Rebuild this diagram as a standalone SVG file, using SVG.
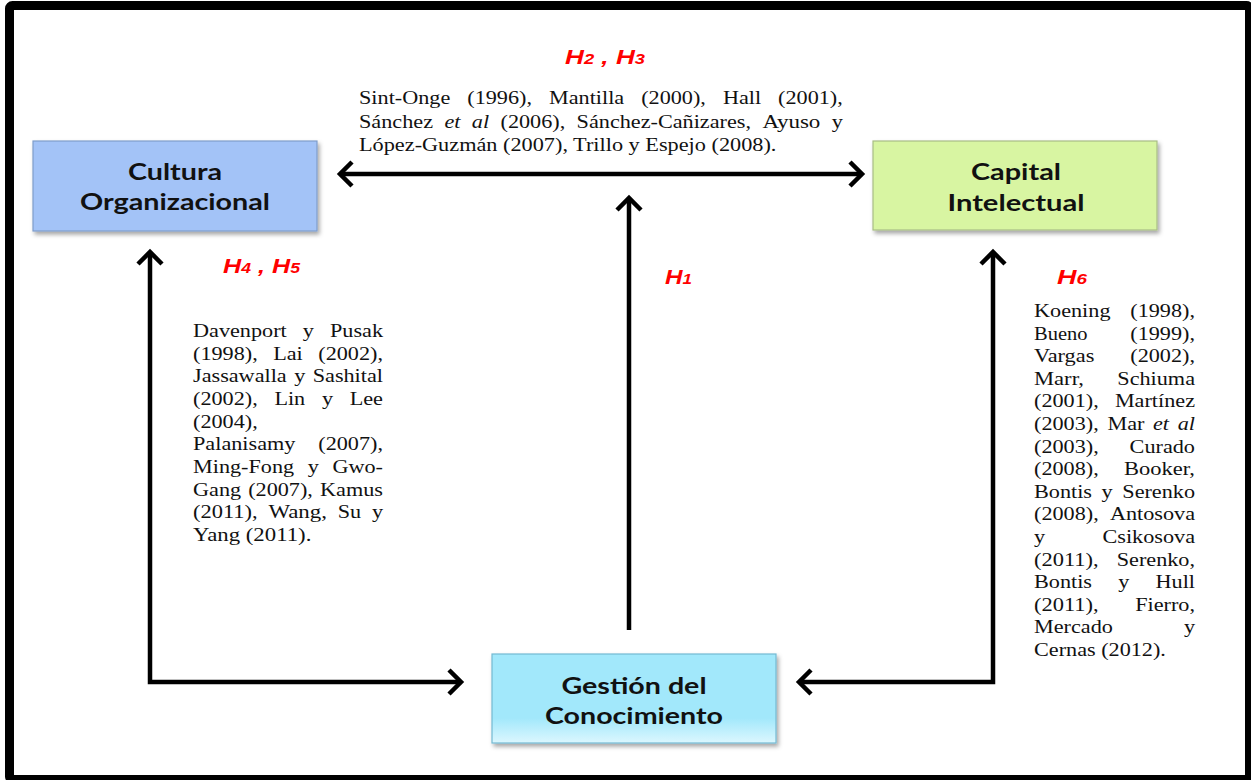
<svg xmlns="http://www.w3.org/2000/svg" width="1251" height="780" viewBox="0 0 1251 780">
  <defs>
    <style>
      .frame { fill: none; stroke: #000; stroke-width: 9; }
      .box-label { font-family: Lato, "Open Sans", "Liberation Sans", sans-serif; font-weight: 700; font-size: 23px; fill: #111; text-anchor: middle; }
      .hyp { font-family: "Liberation Sans", Arial, sans-serif; font-weight: 700; font-style: italic; font-size: 20px; fill: #ff0000; }
      .hyp .sub { font-size: 14px; }
      .ref { font-family: "Liberation Serif", "Times New Roman", serif; font-size: 18px; fill: #111; }
      .ref .it { font-style: italic; }
      .conn { fill: none; stroke: #000; stroke-width: 4.5; stroke-linejoin: miter; }
    </style>
    <marker id="chev" viewBox="-16 -16 20 32" markerWidth="20" markerHeight="32" refX="0" refY="0" markerUnits="userSpaceOnUse" orient="auto-start-reverse" overflow="visible">
      <path d="M -12 -12 L 0 0 L -12 12" fill="none" stroke="#000" stroke-width="4.5" stroke-linecap="butt" stroke-linejoin="miter"/>
    </marker>
    <filter id="shadow" x="-10%" y="-10%" width="125%" height="135%">
      <feDropShadow dx="2" dy="3" stdDeviation="2" flood-color="#000" flood-opacity="0.35"/>
    </filter>
    <linearGradient id="gcFill" x1="0" y1="0" x2="0" y2="1">
      <stop offset="0" stop-color="#a2e8fb"/>
      <stop offset="0.72" stop-color="#a2e8fb"/>
      <stop offset="1" stop-color="#dcf7fe"/>
    </linearGradient>
  </defs>

  <rect width="1251" height="780" fill="#fff"/>
  <rect class="frame" x="9.5" y="5.5" width="1240" height="774" rx="3"/>

  <!-- connectors -->
  <g id="connectors">
    <path class="conn" d="M 340 174 L 862 174" marker-start="url(#chev)" marker-end="url(#chev)"/>
    <path class="conn" d="M 629 630 L 629 198" marker-end="url(#chev)"/>
    <path class="conn" d="M 461 682 L 150 682 L 150 252" marker-start="url(#chev)" marker-end="url(#chev)"/>
    <path class="conn" d="M 799 682 L 993 682 L 993 252" marker-start="url(#chev)" marker-end="url(#chev)"/>
  </g>

  <!-- nodes -->
  <g id="node-cultura">
    <rect x="33" y="141" width="284" height="90" fill="#a3c3f7" stroke="#7f9dca" stroke-width="1.2" filter="url(#shadow)"/>
    <text class="box-label" x="175" y="180" textLength="94" lengthAdjust="spacingAndGlyphs">Cultura</text>
    <text class="box-label" x="175" y="210" textLength="190" lengthAdjust="spacingAndGlyphs">Organizacional</text>
  </g>

  <g id="node-capital">
    <rect x="873" y="141" width="284" height="89" fill="#d8f5a2" stroke="#a9bd85" stroke-width="1.2" filter="url(#shadow)"/>
    <text class="box-label" x="1016" y="180" textLength="90" lengthAdjust="spacingAndGlyphs">Capital</text>
    <text class="box-label" x="1016" y="211" textLength="137" lengthAdjust="spacingAndGlyphs">Intelectual</text>
  </g>

  <g id="node-gestion">
    <rect x="492" y="654" width="284" height="89" fill="url(#gcFill)" stroke="#73b9d2" stroke-width="1.2" filter="url(#shadow)"/>
    <text class="box-label" x="634" y="694" textLength="145" lengthAdjust="spacingAndGlyphs">Gestión del</text>
    <text class="box-label" x="634" y="724" textLength="178" lengthAdjust="spacingAndGlyphs">Conocimiento</text>
  </g>

  <!-- hypothesis labels -->
  <g id="hyp-labels">
    <text class="hyp" x="565" y="64" textLength="80" lengthAdjust="spacingAndGlyphs">H<tspan class="sub">2</tspan> , H<tspan class="sub">3</tspan></text>
    <text class="hyp" x="223" y="273" textLength="77" lengthAdjust="spacingAndGlyphs">H<tspan class="sub">4</tspan> , H<tspan class="sub">5</tspan></text>
    <text class="hyp" x="665" y="284" textLength="27" lengthAdjust="spacingAndGlyphs">H<tspan class="sub">1</tspan></text>
    <text class="hyp" x="1057" y="284" textLength="30" lengthAdjust="spacingAndGlyphs">H<tspan class="sub">6</tspan></text>
  </g>

  <!-- references: culture <-> intellectual capital -->
  <g id="refs-top" class="ref">
    <text x="359" y="104" textLength="91.3" lengthAdjust="spacingAndGlyphs">Sint-Onge</text>
    <text x="467.3" y="104" textLength="64.7" lengthAdjust="spacingAndGlyphs">(1996),</text>
    <text x="549" y="104" textLength="75.2" lengthAdjust="spacingAndGlyphs">Mantilla</text>
    <text x="641.2" y="104" textLength="64.7" lengthAdjust="spacingAndGlyphs">(2000),</text>
    <text x="722.9" y="104" textLength="38.2" lengthAdjust="spacingAndGlyphs">Hall</text>
    <text x="778.1" y="104" textLength="64.7" lengthAdjust="spacingAndGlyphs">(2001),</text>

    <text x="359" y="128" textLength="74" lengthAdjust="spacingAndGlyphs">Sánchez</text>
    <text class="it" x="444.4" y="128" textLength="16" lengthAdjust="spacingAndGlyphs">et</text>
    <text class="it" x="471.8" y="128" textLength="17.3" lengthAdjust="spacingAndGlyphs">al</text>
    <text x="500.5" y="128" textLength="64.7" lengthAdjust="spacingAndGlyphs">(2006),</text>
    <text x="576.6" y="128" textLength="174.4" lengthAdjust="spacingAndGlyphs">Sánchez-Cañizares,</text>
    <text x="762.4" y="128" textLength="58" lengthAdjust="spacingAndGlyphs">Ayuso</text>
    <text x="831.8" y="128" textLength="11.1" lengthAdjust="spacingAndGlyphs">y</text>

    <text x="359" y="151" textLength="417.4" lengthAdjust="spacingAndGlyphs">López-Guzmán (2007), Trillo y Espejo (2008).</text>
  </g>

  <!-- references: knowledge management <-> culture -->
  <g id="refs-left" class="ref">
    <text x="193" y="337" textLength="93.7" lengthAdjust="spacingAndGlyphs">Davenport</text>
    <text x="302.8" y="337" textLength="11.1" lengthAdjust="spacingAndGlyphs">y</text>
    <text x="330" y="337" textLength="53" lengthAdjust="spacingAndGlyphs">Pusak</text>

    <text x="193" y="359.7" textLength="64.7" lengthAdjust="spacingAndGlyphs">(1998),</text>
    <text x="273.2" y="359.7" textLength="29.6" lengthAdjust="spacingAndGlyphs">Lai</text>
    <text x="318.3" y="359.7" textLength="64.7" lengthAdjust="spacingAndGlyphs">(2002),</text>

    <text x="193" y="382.3" textLength="93.7" lengthAdjust="spacingAndGlyphs">Jassawalla</text>
    <text x="294.2" y="382.3" textLength="11.1" lengthAdjust="spacingAndGlyphs">y</text>
    <text x="312.7" y="382.3" textLength="70.3" lengthAdjust="spacingAndGlyphs">Sashital</text>

    <text x="193" y="405" textLength="64.7" lengthAdjust="spacingAndGlyphs">(2002),</text>
    <text x="274.4" y="405" textLength="30.8" lengthAdjust="spacingAndGlyphs">Lin</text>
    <text x="321.9" y="405" textLength="11.1" lengthAdjust="spacingAndGlyphs">y</text>
    <text x="349.7" y="405" textLength="33.3" lengthAdjust="spacingAndGlyphs">Lee</text>

    <text x="193" y="427.7" textLength="64.7" lengthAdjust="spacingAndGlyphs">(2004),</text>

    <text x="193" y="450.3" textLength="102.4" lengthAdjust="spacingAndGlyphs">Palanisamy</text>
    <text x="318.3" y="450.3" textLength="64.7" lengthAdjust="spacingAndGlyphs">(2007),</text>

    <text x="193" y="473" textLength="101.1" lengthAdjust="spacingAndGlyphs">Ming-Fong</text>
    <text x="307.7" y="473" textLength="11.1" lengthAdjust="spacingAndGlyphs">y</text>
    <text x="332.5" y="473" textLength="50.5" lengthAdjust="spacingAndGlyphs">Gwo-</text>

    <text x="193" y="495.7" textLength="48.1" lengthAdjust="spacingAndGlyphs">Gang</text>
    <text x="248.2" y="495.7" textLength="64.7" lengthAdjust="spacingAndGlyphs">(2007),</text>
    <text x="320.1" y="495.7" textLength="62.9" lengthAdjust="spacingAndGlyphs">Kamus</text>

    <text x="193" y="518.3" textLength="64.7" lengthAdjust="spacingAndGlyphs">(2011),</text>
    <text x="268.4" y="518.3" textLength="58.6" lengthAdjust="spacingAndGlyphs">Wang,</text>
    <text x="337.7" y="518.3" textLength="23.4" lengthAdjust="spacingAndGlyphs">Su</text>
    <text x="371.9" y="518.3" textLength="11.1" lengthAdjust="spacingAndGlyphs">y</text>

    <text x="193" y="541" textLength="118.4" lengthAdjust="spacingAndGlyphs">Yang (2011).</text>
  </g>

  <!-- references: knowledge management <-> intellectual capital -->
  <g id="refs-right" class="ref">
    <text x="1034" y="317" textLength="76.5" lengthAdjust="spacingAndGlyphs">Koening</text>
    <text x="1130.3" y="317" textLength="64.7" lengthAdjust="spacingAndGlyphs">(1998),</text>

    <text x="1034" y="339.6" textLength="53.5" lengthAdjust="spacingAndGlyphs">Bueno</text>
    <text x="1130.3" y="339.6" textLength="64.7" lengthAdjust="spacingAndGlyphs">(1999),</text>

    <text x="1034" y="362.2" textLength="60.4" lengthAdjust="spacingAndGlyphs">Vargas</text>
    <text x="1130.3" y="362.2" textLength="64.7" lengthAdjust="spacingAndGlyphs">(2002),</text>

    <text x="1034" y="384.8" textLength="49.9" lengthAdjust="spacingAndGlyphs">Marr,</text>
    <text x="1117.3" y="384.8" textLength="77.7" lengthAdjust="spacingAndGlyphs">Schiuma</text>

    <text x="1034" y="407.4" textLength="64.7" lengthAdjust="spacingAndGlyphs">(2001),</text>
    <text x="1114.9" y="407.4" textLength="80.1" lengthAdjust="spacingAndGlyphs">Martínez</text>

    <text x="1034" y="430" textLength="64.7" lengthAdjust="spacingAndGlyphs">(2003),</text>
    <text x="1107.4" y="430" textLength="37" lengthAdjust="spacingAndGlyphs">Mar</text>
    <text class="it" x="1153" y="430" textLength="16" lengthAdjust="spacingAndGlyphs">et</text>
    <text class="it" x="1177.7" y="430" textLength="17.3" lengthAdjust="spacingAndGlyphs">al</text>

    <text x="1034" y="452.6" textLength="64.7" lengthAdjust="spacingAndGlyphs">(2003),</text>
    <text x="1129.6" y="452.6" textLength="65.4" lengthAdjust="spacingAndGlyphs">Curado</text>

    <text x="1034" y="475.2" textLength="64.7" lengthAdjust="spacingAndGlyphs">(2008),</text>
    <text x="1124.1" y="475.2" textLength="70.9" lengthAdjust="spacingAndGlyphs">Booker,</text>

    <text x="1034" y="497.8" textLength="58" lengthAdjust="spacingAndGlyphs">Bontis</text>
    <text x="1101.6" y="497.8" textLength="11.1" lengthAdjust="spacingAndGlyphs">y</text>
    <text x="1122.3" y="497.8" textLength="72.7" lengthAdjust="spacingAndGlyphs">Serenko</text>

    <text x="1034" y="520.4" textLength="64.7" lengthAdjust="spacingAndGlyphs">(2008),</text>
    <text x="1109.9" y="520.4" textLength="85.1" lengthAdjust="spacingAndGlyphs">Antosova</text>

    <text x="1034" y="543" textLength="11.1" lengthAdjust="spacingAndGlyphs">y</text>
    <text x="1102.5" y="543" textLength="92.5" lengthAdjust="spacingAndGlyphs">Csikosova</text>

    <text x="1034" y="565.6" textLength="64.7" lengthAdjust="spacingAndGlyphs">(2011),</text>
    <text x="1116.7" y="565.6" textLength="78.3" lengthAdjust="spacingAndGlyphs">Serenko,</text>

    <text x="1034" y="588.2" textLength="58" lengthAdjust="spacingAndGlyphs">Bontis</text>
    <text x="1118.2" y="588.2" textLength="11.1" lengthAdjust="spacingAndGlyphs">y</text>
    <text x="1155.5" y="588.2" textLength="39.5" lengthAdjust="spacingAndGlyphs">Hull</text>

    <text x="1034" y="610.8" textLength="64.7" lengthAdjust="spacingAndGlyphs">(2011),</text>
    <text x="1135.2" y="610.8" textLength="59.8" lengthAdjust="spacingAndGlyphs">Fierro,</text>

    <text x="1034" y="633.4" textLength="78.9" lengthAdjust="spacingAndGlyphs">Mercado</text>
    <text x="1183.9" y="633.4" textLength="11.1" lengthAdjust="spacingAndGlyphs">y</text>

    <text x="1034" y="656" textLength="131.9" lengthAdjust="spacingAndGlyphs">Cernas (2012).</text>
  </g>
</svg>
